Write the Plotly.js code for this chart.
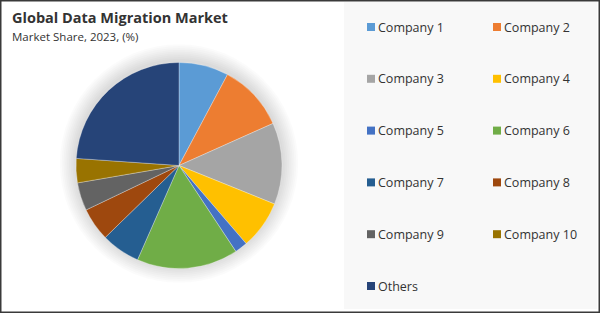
<!DOCTYPE html>
<html>
<head>
<meta charset="utf-8">
<script src="https://cdn.plot.ly/plotly-3.0.1.min.js"></script>
<style>html,body{margin:0;padding:0;background:#fff;}#chart{width:600px;height:313px;}</style>
</head>
<body>
<div id="chart"></div>
<script>
const labels = ["Company 1","Company 2","Company 3","Company 4","Company 5","Company 6","Company 7","Company 8","Company 9","Company 10","Others"];
const shares = [7.8, 10.5, 12.8, 7.6, 2.0, 15.9, 6.1, 5.2, 4.4, 3.8, 23.9];
const colors = ["#5B9BD5","#ED7D31","#A5A5A5","#FFC000","#4472C4","#70AD47","#255E91","#9E480E","#636363","#997300","#264478"];
const titleText = "Global Data Migration Market";
const subtitleText = "Market Share, 2023, (%)";

const W = 600, H = 313;
const px = x => x / W;
const py = y => 1 - y / H;
const FONT = "Open Sans, sans-serif";

const shapes = [];
const annotations = [];

// legend panel background
shapes.push({type:"rect", xref:"paper", yref:"paper", x0:px(344), x1:px(597), y0:py(309), y1:py(2),
  fillcolor:"#f8f8f8", line:{width:0}, layer:"below"});

// soft shadow behind pie
const cx = 179, cy = 165.5, r = 103;
for (let i = 9; i >= 1; i--) {
  const rr = r + i * 1.8;
  shapes.push({type:"circle", xref:"paper", yref:"paper",
    x0:px(cx - rr), x1:px(cx + rr), y0:py(cy + rr - 2), y1:py(cy - rr - 2),
    fillcolor:"rgba(0,0,0,0.016)", line:{width:0}, layer:"below"});
}

// legend entries
labels.forEach((lab, i) => {
  const col = i % 2, row = Math.floor(i / 2);
  const mx = col === 0 ? 367 : 493;
  const yc = 27 + row * 51.8;
  shapes.push({type:"rect", xref:"paper", yref:"paper",
    x0:px(mx), x1:px(mx + 8), y0:py(yc + 4), y1:py(yc - 4),
    fillcolor:colors[i], line:{width:0}});
  annotations.push({xref:"paper", yref:"paper", x:px(mx + 9), y:py(yc), xanchor:"left", yanchor:"middle",
    text:lab, showarrow:false, font:{family:FONT, size:12.5, color:"#333333"}});
});

// title & subtitle
annotations.push({xref:"paper", yref:"paper", x:px(10), y:py(18), xanchor:"left", yanchor:"middle",
  text:"<b>" + titleText + "</b>", showarrow:false, font:{family:FONT, size:14.5, color:"#333333"}});
annotations.push({xref:"paper", yref:"paper", x:px(10), y:py(37), xanchor:"left", yanchor:"middle",
  text:subtitleText, showarrow:false, font:{family:FONT, size:11.5, color:"#333333"}});

// outer border
shapes.push({type:"rect", xref:"paper", yref:"paper", x0:0, x1:1, y0:0, y1:1,
  fillcolor:"rgba(0,0,0,0)", line:{color:"#3a3a3a", width:3}});

const trace = {
  type:"pie",
  labels:labels,
  values:shares,
  sort:false,
  direction:"clockwise",
  rotation:0,
  textinfo:"none",
  hoverinfo:"label+percent",
  marker:{colors:colors, line:{color:"rgba(255,255,255,0.5)", width:0.6}},
  domain:{x:[px(cx - r), px(cx + r)], y:[py(cy + r), py(cy - r)]},
  showlegend:false
};

const layout = {
  width:W, height:H,
  margin:{l:0, r:0, t:0, b:0},
  paper_bgcolor:"#ffffff",
  plot_bgcolor:"#ffffff",
  showlegend:false,
  shapes:shapes,
  annotations:annotations
};

Plotly.newPlot("chart", [trace], layout, {displayModeBar:false, staticPlot:true});
</script>
</body>
</html>
